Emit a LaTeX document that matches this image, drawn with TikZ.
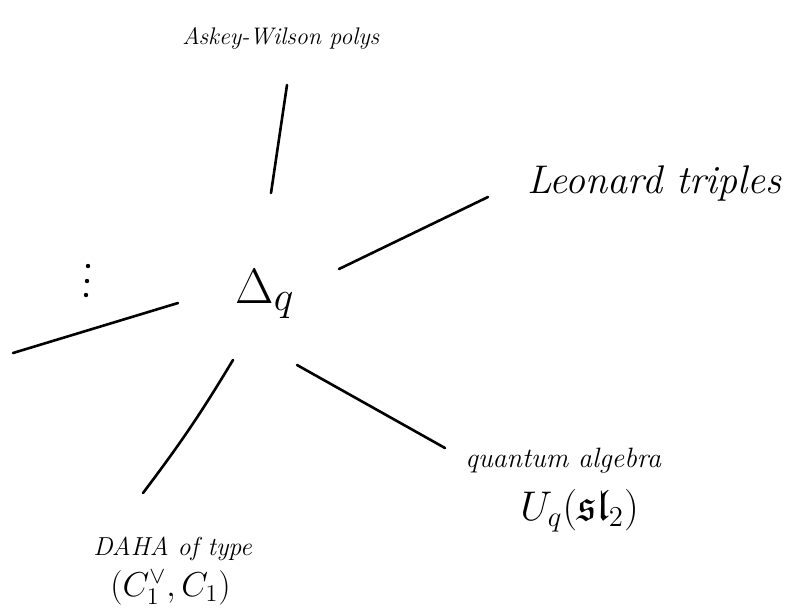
\documentclass[tikz,border=0pt]{standalone}
\usepackage{amssymb}
\begin{document}
\begin{tikzpicture}[x=0.5pt,y=-0.5pt,line cap=round,line join=round,
    stroke/.style={line width=1.3pt},
    hand/.style={inner sep=0pt,anchor=base west},
    dot/.style={fill,circle,inner sep=0pt,minimum size=2.2pt}]
  \useasboundingbox (0,0) rectangle (798,612);
  % centre
  \node[hand,font=\fontsize{28}{30}\selectfont] (dq) at (235,303) {$\Delta_q$};
  \node[dot] (v1) at (88,266) {};
  \node[dot] (v2) at (87,281) {};
  \node[dot] (v3) at (86,295) {};
  % labels
  \node[hand,font=\fontsize{12}{14}\selectfont\itshape] (aw) at (182,44) {Askey-Wilson polys};
  \node[hand,font=\fontsize{20}{22}\selectfont\itshape] (lt) at (527,193) {Leonard triples};
  \node[hand,font=\fontsize{14}{16}\selectfont\itshape] (qa) at (465,467) {quantum algebra};
  \node[hand,font=\fontsize{22}{24}\selectfont] (uq) at (520,520) {$U_q(\mathfrak{sl}_2)$};
  \node[hand,font=\fontsize{13}{15}\selectfont\itshape] (dh) at (93,555) {DAHA of type};
  \node[hand,font=\fontsize{17}{19}\selectfont] (cc) at (110,596) {$(C_1^\vee,C_1)$};
  % spokes
  \coordinate (aw1) at (271,193);
  \coordinate (aw2) at (287,85);
  \coordinate (lt1) at (339,269);
  \coordinate (lt2) at (488,197);
  \coordinate (ds1) at (178,303);
  \coordinate (ds2) at (13,353);
  \coordinate (dh1) at (233,360);
  \coordinate (dh2) at (143,493);
  \coordinate (qa1) at (297,365);
  \coordinate (qa2) at (445,448);
  \draw[stroke] (aw1) -- (aw2);
  \draw[stroke] (lt1) -- (lt2);
  \draw[stroke] (ds1) -- (ds2);
  \draw[stroke] (dh1) to[bend left=3] (dh2);
  \draw[stroke] (qa1) -- (qa2);
\end{tikzpicture}
\end{document}
